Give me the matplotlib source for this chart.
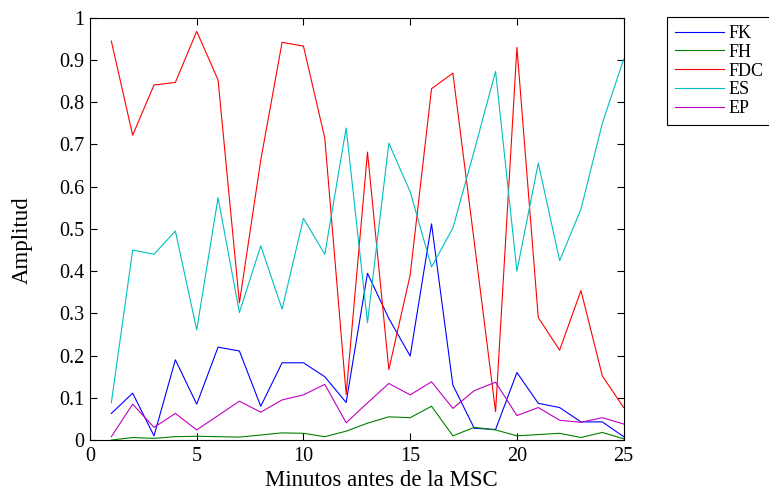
import matplotlib
matplotlib.use("Agg")
import matplotlib.pyplot as plt

plt.rcParams['font.family'] = ['Liberation Serif', 'DejaVu Serif']

# minutes before the MSC
minutes = list(range(1, 26))

fk = [0.063, 0.111, 0.010, 0.190, 0.085, 0.220, 0.211, 0.080, 0.183, 0.183,
      0.150, 0.089, 0.395, 0.288, 0.199, 0.512, 0.130, 0.028, 0.025, 0.160,
      0.087, 0.077, 0.043, 0.043, 0.008]
fh = [0.000, 0.006, 0.004, 0.008, 0.009, 0.008, 0.007, 0.012, 0.017, 0.016,
      0.008, 0.021, 0.040, 0.055, 0.053, 0.080, 0.010, 0.030, 0.024, 0.010,
      0.013, 0.016, 0.006, 0.018, 0.003]
fdc = [0.945, 0.722, 0.841, 0.847, 0.968, 0.853, 0.325, 0.663, 0.942, 0.933,
       0.715, 0.108, 0.682, 0.167, 0.391, 0.832, 0.869, 0.470, 0.067, 0.930,
       0.290, 0.213, 0.354, 0.152, 0.077]
es = [0.088, 0.450, 0.440, 0.495, 0.261, 0.574, 0.302, 0.460, 0.310, 0.525,
      0.440, 0.739, 0.278, 0.703, 0.588, 0.410, 0.502, 0.685, 0.873, 0.400,
      0.656, 0.425, 0.547, 0.750, 0.902]
ep = [0.008, 0.085, 0.030, 0.063, 0.024, 0.058, 0.092, 0.066, 0.095, 0.107,
      0.132, 0.041, 0.088, 0.134, 0.107, 0.138, 0.075, 0.117, 0.137, 0.058,
      0.077, 0.047, 0.042, 0.053, 0.038]

series = [("FK", fk, (0, 0, 1)),
          ("FH", fh, (0, 0.5, 0)),
          ("FDC", fdc, (1, 0, 0)),
          ("ES", es, (0, 0.75, 0.75)),
          ("EP", ep, (0.75, 0, 0.75))]

fig = plt.figure(figsize=(7.69, 4.95), dpi=100)
ax = fig.add_axes([0.117, 0.111, 0.694, 0.853])

for name, vals, col in series:
    ax.plot(minutes, vals, color=col, linewidth=0.8, label=name)

ax.set_xlim(0, 25)
ax.set_ylim(0, 1)
ax.set_xticks(range(0, 26, 5))
ax.set_yticks([i / 10 for i in range(11)])
ax.set_yticklabels(["0"] + ["%.1f" % (i / 10) for i in range(1, 10)] + ["1"])
ax.tick_params(direction="in", top=True, right=True, labelsize=14.5, length=5)
ax.tick_params(axis="y", pad=4)
ax.tick_params(axis="x", pad=5)
ax.set_xlabel("Minutos antes de la MSC", fontsize=16.5)
ax.set_ylabel("Amplitud", fontsize=16.5)
ax.xaxis.set_label_coords(0.545, -0.072)
ax.yaxis.set_label_coords(-0.108, 0.474)

leg = ax.legend(loc="upper left", bbox_to_anchor=(0.867, 0.966),
                bbox_transform=fig.transFigure, fontsize=13, frameon=True,
                fancybox=False, edgecolor="black", framealpha=1,
                handlelength=2.7, handletextpad=0.25, labelspacing=0.1,
                borderpad=0.45, borderaxespad=0)
leg.get_frame().set_linewidth(0.8)

fig.savefig("out.png", dpi=100)
